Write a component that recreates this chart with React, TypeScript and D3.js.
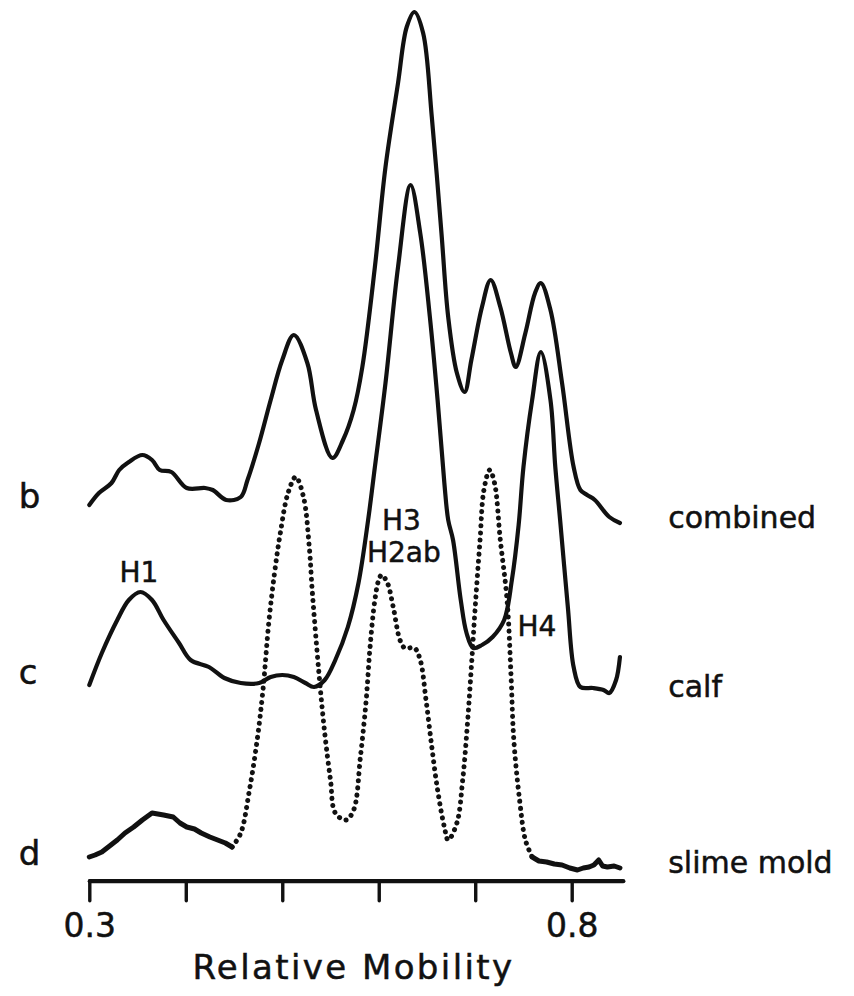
import React, { useEffect, useRef } from "react";
import * as d3 from "d3";

// Densitometer traces: [relative mobility, intensity (arbitrary units, with trace offset)]
const combined: [number, number][] = [
  [0.3, 37.5], [0.31, 38.7], [0.323, 39.7], [0.331, 41.0], [0.341, 41.8], [0.355, 42.5],
  [0.365, 42.0], [0.373, 41.0], [0.385, 40.8], [0.401, 39.2], [0.42, 39.2], [0.428, 39.0],
  [0.442, 38.0], [0.457, 38.3], [0.464, 40.0], [0.476, 43.7], [0.488, 48.0], [0.5, 52.0],
  [0.512, 54.5], [0.526, 51.7], [0.535, 47.0], [0.552, 42.2], [0.563, 44.0], [0.574, 47.0],
  [0.583, 51.3], [0.596, 61.3], [0.607, 71.3], [0.62, 79.7], [0.629, 85.3], [0.637, 86.8],
  [0.646, 84.7], [0.655, 76.3], [0.665, 64.7], [0.672, 56.3], [0.681, 50.7], [0.689, 48.8],
  [0.696, 52.0], [0.707, 57.3], [0.716, 60.0], [0.726, 57.3], [0.737, 52.7], [0.742, 51.3],
  [0.752, 54.7], [0.762, 58.7], [0.768, 59.7], [0.778, 57.0], [0.79, 49.7], [0.802, 41.3],
  [0.809, 39.0], [0.816, 38.5], [0.824, 38.0], [0.839, 36.3], [0.85, 35.7],
];

const calf: [number, number][] = [
  [0.3, 19.5], [0.313, 22.7], [0.329, 26.0], [0.341, 28.0], [0.353, 28.8], [0.365, 28.0],
  [0.377, 26.0], [0.393, 23.7], [0.405, 22.0], [0.424, 21.3], [0.44, 20.2], [0.457, 19.7],
  [0.476, 19.7], [0.488, 20.3], [0.5, 20.5], [0.512, 20.3], [0.524, 19.7], [0.533, 19.3],
  [0.544, 20.0], [0.555, 22.0], [0.568, 25.3], [0.579, 29.7], [0.589, 36.0], [0.596, 41.3],
  [0.607, 49.7], [0.62, 61.3], [0.633, 69.5], [0.643, 64.7], [0.653, 56.3], [0.661, 48.0],
  [0.668, 39.7], [0.672, 36.0], [0.677, 34.0], [0.685, 28.0], [0.691, 24.7], [0.698, 23.2],
  [0.707, 23.5], [0.718, 24.3], [0.73, 26.0], [0.738, 30.0], [0.745, 35.5], [0.75, 41.3],
  [0.759, 48.0], [0.768, 52.8], [0.778, 48.0], [0.783, 41.3], [0.788, 36.0], [0.796, 27.3],
  [0.802, 21.3], [0.809, 19.3], [0.822, 19.2], [0.833, 19.0], [0.839, 18.7], [0.846, 20.0],
  [0.85, 22.3],
];

const slimeMold: [number, number][] = [
  [0.3, 2.3], [0.306, 2.5], [0.313, 2.8], [0.321, 3.4], [0.329, 4.0], [0.337, 4.7],
  [0.346, 5.3], [0.355, 6.0], [0.365, 6.7], [0.371, 6.6], [0.377, 6.5], [0.387, 6.3],
  [0.394, 5.7], [0.401, 5.3], [0.409, 5.1], [0.416, 4.7], [0.425, 4.3], [0.433, 4.0],
  [0.441, 3.7], [0.448, 3.3], [0.457, 4.7], [0.466, 9.0], [0.474, 14.0], [0.48, 19.0],
  [0.486, 25.7], [0.492, 30.7], [0.498, 34.7], [0.506, 38.7], [0.514, 40.3], [0.522, 38.3],
  [0.528, 33.3], [0.531, 29.0], [0.538, 20.7], [0.544, 14.7], [0.55, 10.0], [0.555, 6.7],
  [0.566, 6.0], [0.574, 7.0], [0.581, 12.3], [0.587, 18.0], [0.591, 23.3], [0.596, 28.0],
  [0.6, 30.0], [0.603, 30.5], [0.609, 29.7], [0.615, 27.3], [0.622, 24.0], [0.627, 23.2],
  [0.637, 23.2], [0.643, 22.0], [0.649, 18.0], [0.655, 13.3], [0.661, 9.0], [0.668, 5.3],
  [0.672, 4.0], [0.681, 5.7], [0.687, 10.0], [0.692, 15.7], [0.696, 21.3], [0.7, 27.3],
  [0.705, 34.0], [0.709, 39.0], [0.715, 41.0], [0.72, 39.7], [0.726, 34.0], [0.733, 28.0],
  [0.737, 20.7], [0.74, 14.0], [0.746, 8.0], [0.752, 4.0], [0.759, 2.3], [0.766, 1.9],
  [0.774, 1.8], [0.782, 1.6], [0.79, 1.5], [0.798, 1.2], [0.806, 1.0], [0.812, 1.2],
  [0.818, 1.3], [0.823, 1.5], [0.828, 2.0], [0.832, 1.4], [0.837, 1.3], [0.844, 1.4],
  [0.85, 1.2],
];

// slime-mold trace drawn dotted between these mobilities
const dottedSpan: [number, number] = [0.448, 0.759];

const tickValues = [0.3, 0.4, 0.5, 0.6, 0.7, 0.8];
const tickLabels = ["0.3", "", "", "", "", "0.8"];
const axisEnd = 0.853;
const axisTitle = "Relative Mobility";

const traceLetters = ["b", "c", "d"];
const traceLetterLevels = [37.2, 19.6, 1.5];
const traceNames = ["combined", "calf", "slime mold"];
const traceNameLevels = [35.2, 18.3, 0.7];
const traceNameMobility = 0.9;
const traceLetterMobility = 0.227;

const peakNames = ["H1", "H3", "H2ab", "H4"];
const peakMobility = [0.3515, 0.6235, 0.626, 0.764];
const peakLevels = [29.8, 35.0, 31.8, 24.4];

const W = 854;
const H = 996;
const FONT = "'DejaVu Sans', 'Liberation Sans', sans-serif";
const INK = "#111";

export default function App() {
  const axisRef = useRef<SVGGElement>(null);

  const x = d3.scaleLinear().domain([0.3, 0.8]).range([89.3, 571.7]);
  const y = d3.scaleLinear().domain([0, 88]).range([880, 0]);

  const smooth = d3
    .line<[number, number]>()
    .x((d) => x(d[0]))
    .y((d) => y(d[1]))
    .curve(d3.curveCatmullRom.alpha(0.5));

  const jagged = d3
    .line<[number, number]>()
    .x((d) => x(d[0]))
    .y((d) => y(d[1]))
    .curve(d3.curveLinear);

  const smLeft = slimeMold.filter((d) => d[0] <= dottedSpan[0]);
  const smMid = slimeMold.filter((d) => d[0] >= dottedSpan[0] && d[0] <= dottedSpan[1]);
  const smRight = slimeMold.filter((d) => d[0] >= dottedSpan[1]);

  useEffect(() => {
    if (!axisRef.current) return;
    const axisScale = x.copy().domain([0.3, axisEnd]).range([x(0.3), x(axisEnd)]);
    const axis = d3
      .axisBottom(axisScale)
      .tickValues(tickValues)
      .tickSize(20)
      .tickSizeOuter(0)
      .tickPadding(13)
      .tickFormat((_d, i) => tickLabels[i]);
    const g = d3.select(axisRef.current);
    g.selectAll("*").remove();
    g.call(axis as any);
    g.select(".domain").attr("stroke", INK).attr("stroke-width", 4.2).attr("stroke-linecap", "round");
    g.selectAll(".tick line").attr("stroke", INK).attr("stroke-width", 3.4).attr("stroke-linecap", "round");
    g.selectAll(".tick text")
      .attr("fill", INK)
      .attr("stroke", INK)
      .attr("stroke-width", 0.5)
      .attr("font-size", 33)
      .attr("font-family", FONT);
  }, []);

  const textProps = { fontFamily: FONT, fill: INK, stroke: INK, strokeWidth: 0.5 };

  return (
    <svg
      width={W}
      height={H}
      viewBox={`0 0 ${W} ${H}`}
      style={{ position: "absolute", left: 0, top: 0, background: "#fff" }}
    >
      <rect x={0} y={0} width={W} height={H} fill="#fff" />
      <g fill="none" stroke={INK} strokeLinejoin="round" strokeLinecap="round">
        <path d={smooth(combined) || ""} strokeWidth={4.2} />
        <path d={smooth(calf) || ""} strokeWidth={4.2} />
        <path d={jagged(smLeft) || ""} strokeWidth={5} />
        <path d={smooth(smMid) || ""} strokeWidth={5} strokeDasharray="0.1 7" />
        <path d={jagged(smRight) || ""} strokeWidth={5} />
      </g>
      <g ref={axisRef} transform={`translate(0, ${y(0) + 0.7})`} />
      <text x={353.5} y={979} textAnchor="middle" fontSize={34} letterSpacing={2.4} {...textProps}>
        {axisTitle}
      </text>
      {traceLetters.map((t, i) => (
        <text key={t} x={x(traceLetterMobility)} y={y(traceLetterLevels[i])} fontSize={34} {...textProps}>
          {t}
        </text>
      ))}
      {traceNames.map((t, i) => (
        <text key={t} x={x(traceNameMobility)} y={y(traceNameLevels[i])} fontSize={30} {...textProps}>
          {t}
        </text>
      ))}
      {peakNames.map((t, i) => (
        <text
          key={t}
          x={x(peakMobility[i])}
          y={y(peakLevels[i])}
          textAnchor="middle"
          fontSize={28}
          {...textProps}
        >
          {t}
        </text>
      ))}
    </svg>
  );
}
